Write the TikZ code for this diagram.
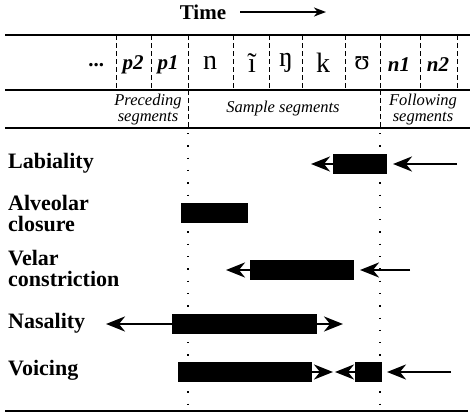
\documentclass[tikz,border=0pt]{standalone}
\usepackage{fontspec}
\setmainfont{Liberation Serif}
\usetikzlibrary{arrows.meta,positioning}
\tikzset{
  ttl/.style={font=\fontsize{21}{21}\selectfont\bfseries,inner sep=0pt},
  seg/.style={font=\fontsize{28}{28}\selectfont,inner sep=0pt},
  segb/.style={font=\fontsize{21}{21}\selectfont\bfseries\itshape,inner sep=0pt},
  grp/.style={font=\fontsize{16.5}{16}\selectfont\itshape,align=center,inner sep=0pt},
  lbl/.style={font=\fontsize{22}{21}\selectfont\bfseries,align=left,anchor=west,inner sep=0pt},
  bar/.style={fill=black,inner sep=0pt,minimum height=20pt},
  rule/.style={line width=1.8pt},
  divider/.style={dashed,dash pattern=on 5pt off 3pt,line width=0.8pt},
  guide/.style={line width=1.3pt,dash pattern=on 1.3pt off 11pt},
  flow/.style={-{Stealth[length=19pt,width=15pt,inset=6pt]},line width=2.4pt},
  tarrow/.style={-{Stealth[length=12pt,width=9pt,inset=3.5pt]},line width=1.5pt},
}

\begin{document}
\begin{tikzpicture}[x=1pt,y=-1pt]
  \useasboundingbox (0,0) rectangle (474,416);
  % title
  \node[ttl] (time) at (203,12) {Time};
  \coordinate (timeS) at (240,12);
  \coordinate (timeE) at (326,12);
  \draw[tarrow] (timeS)--(timeE);

  % header rules
  \draw[rule] (5,35)--(470,35);
  \draw[rule] (5,90)--(470,90);
  \draw[rule] (5,128)--(470,128);
  \draw[rule] (5,411)--(468,411);
  \foreach \x in {116,151,188,233,269,302,345,380,420,457}
    \draw[divider] (\x,35)--(\x,90);
  \draw[divider] (188,90)--(188,128);
  \draw[divider] (380,90)--(380,128);
  \draw[guide] (188,133)--(188,405);
  \draw[guide] (380,133)--(380,405);

  % segments
  \node[segb] (dots) at (97,65) {...};
  \node[segb] (p2) at (133,65) {p2};
  \node[segb] (p1) at (168,65) {p1};
  \node[seg] (sn) at (210,63) {n};
  \node[seg] (si) at (252,63) {ĩ};
  \node[seg] (seng) at (286,63) {ŋ};
  \node[seg] (sk) at (323,63) {k};
  \node[seg] (supsilon) at (362,63) {ʊ};
  \node[segb] (n1) at (399,65) {n1};
  \node[segb] (n2) at (438,65) {n2};

  \node[grp] (prec) at (148,110) {Preceding\\segments};
  \node[grp] (samp) at (283,109) {Sample segments};
  \node[grp] (foll) at (423,110) {Following\\segments};

  % features
  \node[lbl] (tLab) at (8,163) {Labiality};
  \node[lbl] (tAlv) at (8,213) {Alveolar\\closure};
  \node[lbl] (tVel) at (8,268) {Velar\\constriction};
  \node[lbl] (tNas) at (8,323) {Nasality};
  \node[lbl] (tVoi) at (8,370) {Voicing};

  \node[bar,minimum width=54pt] (labBar) at (360,164) {};
  \node[bar,minimum width=67pt] (alvBar) at (214.5,213) {};
  \node[bar,minimum width=104pt] (velBar) at (302,270) {};
  \node[bar,minimum width=145pt] (nasBar) at (244.5,324) {};
  \node[bar,minimum width=134pt] (voiA) at (245,372) {};
  \node[bar,minimum width=27pt] (voiB) at (368.5,372) {};

  \coordinate (labL) at (311,164);
  \coordinate (labR) at (457,164);
  \coordinate (labT) at (393,164);
  \coordinate (velL) at (226,270);
  \coordinate (velR) at (410,270);
  \coordinate (velT) at (360,270);
  \coordinate (nasL) at (106,324);
  \coordinate (nasR) at (343,324);
  \coordinate (voiM) at (333,372);
  \coordinate (voiN) at (335,372);
  \coordinate (voiR) at (451,372);
  \coordinate (voiT) at (387,372);

  \draw[flow] (labBar.west)--(labL);
  \draw[flow] (labR)--(labT);
  \draw[flow] (velBar.west)--(velL);
  \draw[flow] (velR)--(velT);
  \draw[flow] (nasBar.west)--(nasL);
  \draw[flow] (nasBar.east)--(nasR);
  \draw[flow] (voiA.east)--(voiM);
  \draw[flow] (voiB.west)--(voiN);
  \draw[flow] (voiR)--(voiT);
\end{tikzpicture}
\end{document}
